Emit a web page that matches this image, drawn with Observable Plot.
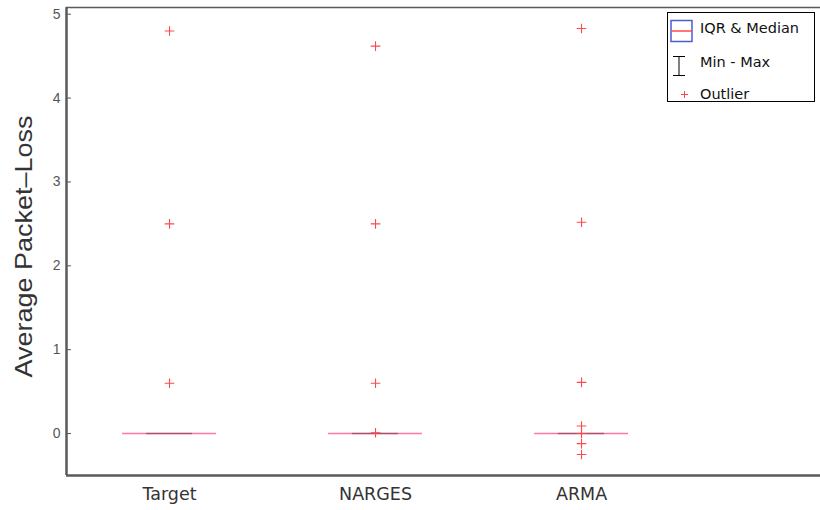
<!DOCTYPE html>
<html>
<head>
<meta charset="utf-8">
<script src="https://cdn.jsdelivr.net/npm/d3@7"></script>
<script src="https://cdn.jsdelivr.net/npm/@observablehq/plot@0.6"></script>
<style>
  html, body { margin: 0; padding: 0; background: #fff; }
  #wrap { position: relative; width: 820px; height: 510px; }
  #legend {
    position: absolute; left: 667px; top: 12px; width: 148px; height: 90px;
    border: 1px solid #000; background: #fff; box-sizing: border-box;
    font-family: "DejaVu Sans", sans-serif; font-size: 14.5px; color: #111;
  }
  #legend .row { position: absolute; left: 0; height: 20px; width: 100%; }
  #legend .row span { position: absolute; left: 32px; top: 1px; white-space: nowrap; }
  #legend svg { position: absolute; left: 0; top: 0; }
</style>
</head>
<body>
<div id="wrap"></div>
<script>
// ---- data ----
const categories = ["Target", "NARGES", "ARMA"];
const q1 = [0, 0, 0];
const median = [0, 0, 0];
const q3 = [0, 0, 0];
const whiskerLo = [0, 0, 0];
const whiskerHi = [0, 0, 0];
const outliersTarget = [4.80, 2.50, 0.60];
const outliersNarges = [4.62, 2.50, 0.60, 0.01];
const outliersArma = [4.83, 2.52, 0.61, 0.09, 0.0, -0.12, -0.25];
const yTicks = [0, 1, 2, 3, 4, 5];
const yLabel = "Average Packet\u2013Loss";
const legendLabels = ["IQR & Median", "Min - Max", "Outlier"];

const xDomain = [0.5, 4.16];
const yDomain = [-0.5, 5.08];
const boxHalf = 0.228;
const capHalf = 0.112;

const boxes = categories.map((c, i) => ({
  pos: i + 1, q1: q1[i], median: median[i], q3: q3[i], lo: whiskerLo[i], hi: whiskerHi[i]
}));
const outliers = [outliersTarget, outliersNarges, outliersArma].flatMap((arr, i) =>
  arr.map(v => ({pos: i + 1, value: v})));

const chart = Plot.plot({
  width: 820, height: 510,
  marginLeft: 66, marginRight: 0, marginTop: 7, marginBottom: 35,
  x: {domain: xDomain, axis: null},
  y: {domain: yDomain, axis: null},
  style: {fontFamily: "Liberation Sans, sans-serif", background: "#fff"},
  marks: [
    // whiskers
    Plot.ruleX(boxes, {x: "pos", y1: "lo", y2: "q1", stroke: "#000", strokeOpacity: 0.2}),
    Plot.ruleX(boxes, {x: "pos", y1: "q3", y2: "hi", stroke: "#000", strokeOpacity: 0.2}),
    // box
    Plot.rect(boxes, {x1: d => d.pos - boxHalf, x2: d => d.pos + boxHalf, y1: "q1", y2: "q3",
      fill: "none", stroke: "#4a5cd0", strokeWidth: 1.5, strokeOpacity: 0.4}),
    // median
    Plot.ruleY(boxes, {y: "median", x1: d => d.pos - boxHalf, x2: d => d.pos + boxHalf,
      stroke: "#ff4a8a", strokeWidth: 1.5, strokeOpacity: 0.75}),
    // caps
    Plot.ruleY(boxes, {y: "lo", x1: d => d.pos - capHalf, x2: d => d.pos + capHalf, stroke: "#000", strokeOpacity: 0.18, strokeWidth: 1.5}),
    Plot.ruleY(boxes, {y: "hi", x1: d => d.pos - capHalf, x2: d => d.pos + capHalf, stroke: "#000", strokeOpacity: 0.18, strokeWidth: 1.5}),
    // outliers
    Plot.dot(outliers, {x: "pos", y: "value", symbol: "plus", r: 3.2, stroke: "#ff4848", strokeWidth: 1.1}),
    // frame lines
    Plot.ruleX([xDomain[0]], {stroke: "#5a5a5a", strokeWidth: 2.5}),
    Plot.ruleY([yDomain[0]], {stroke: "#5a5a5a", strokeWidth: 2.5}),
    Plot.ruleY([yDomain[1]], {stroke: "#5a5a5a", strokeWidth: 1.5}),
    // axes
    Plot.axisY({ticks: yTicks, tickFormat: d3.format("d"), tickSize: -5, tickPadding: 11, label: null, color: "#555",
      fontSize: 14, fontFamily: "Liberation Sans, sans-serif"}),
    Plot.axisX({ticks: [1, 2, 3], tickFormat: d => categories[d - 1], tickSize: 0, tickPadding: 12,
      label: null, color: "#333", fontSize: 17.5, fontFamily: "DejaVu Sans, sans-serif"}),
    // y label
    Plot.text([yLabel], {frameAnchor: "left", dx: -42, dy: 5, rotate: -90, fontSize: 24,
      fill: "#333", fontFamily: "Liberation Sans, sans-serif", textAnchor: "middle"})
  ]
});

document.getElementById("wrap").appendChild(chart);

// stretch y label to the reference length
d3.select(chart).selectAll("text").filter(function() { return this.textContent === yLabel; })
  .attr("textLength", 262).attr("lengthAdjust", "spacingAndGlyphs");

// legend (HTML overlay)
const legend = document.createElement("div");
legend.id = "legend";
const rowsTop = [6, 40, 72];
const icons = [
  `<svg width="30" height="26"><rect x="3" y="1.5" width="21" height="21" fill="none" stroke="#4a5cd0" stroke-width="1.5"/><line x1="3" x2="24" y1="12" y2="12" stroke="#ff4a4a" stroke-width="1.5"/></svg>`,
  `<svg width="30" height="26"><line x1="5" x2="17" y1="3.5" y2="3.5" stroke="#000"/><line x1="11" x2="11" y1="3.5" y2="22.5" stroke="#000"/><line x1="5" x2="17" y1="22.5" y2="22.5" stroke="#000"/></svg>`,
  `<svg width="30" height="26"><line x1="13" x2="20" y1="9.5" y2="9.5" stroke="#ff4848"/><line x1="16.5" x2="16.5" y1="6" y2="13" stroke="#ff4848"/></svg>`
];
legendLabels.forEach((lab, i) => {
  const row = document.createElement("div");
  row.className = "row";
  row.style.top = rowsTop[i] + "px";
  row.innerHTML = icons[i] + `<span>${lab.replace("&", "&amp;")}</span>`;
  legend.appendChild(row);
});
document.getElementById("wrap").appendChild(legend);
</script>
</body>
</html>
